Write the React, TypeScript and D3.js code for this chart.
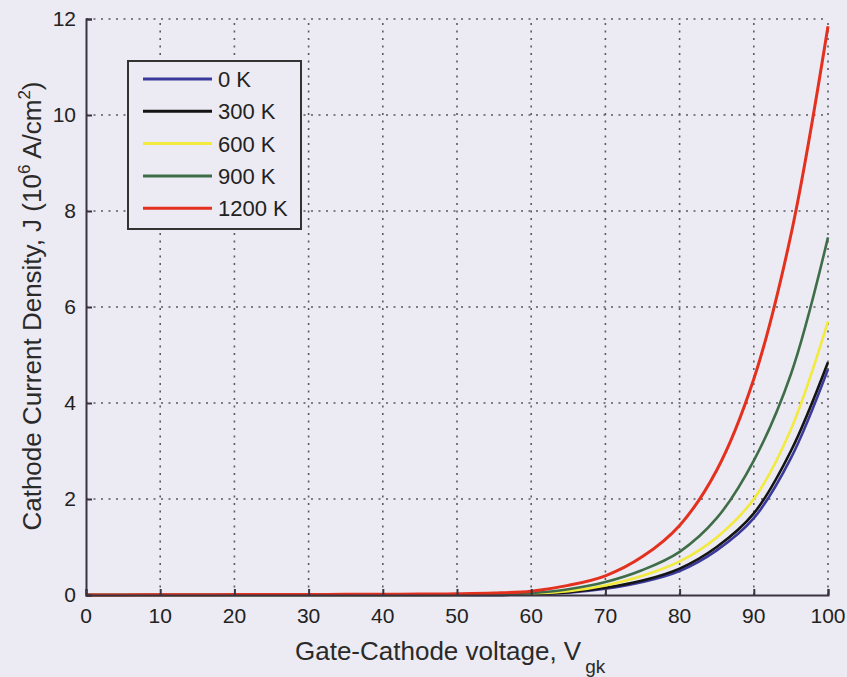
import { useEffect, useRef } from "react";
import * as d3 from "d3";

// gate-cathode voltage samples (V)
const voltages = [0, 5, 10, 15, 20, 25, 30, 35, 40, 45, 50, 55, 60, 65, 70, 75, 80, 85, 90, 95, 100];

// current density per temperature (10^6 A/cm^2)
const j0K = [0, 0, 0, 0, 0, 0, 0, 0, 0, 0, 0, 0, 0.02, 0.05, 0.13, 0.27, 0.5, 0.93, 1.6, 2.85, 4.7];
const j300K = [0, 0, 0, 0, 0, 0, 0, 0, 0, 0, 0, 0, 0.02, 0.06, 0.15, 0.3, 0.55, 1.0, 1.7, 3.0, 4.85];
const j600K = [0, 0, 0, 0, 0, 0, 0, 0, 0, 0, 0, 0.01, 0.03, 0.08, 0.2, 0.4, 0.7, 1.2, 2.0, 3.45, 5.7];
const j900K = [0, 0, 0, 0, 0, 0, 0, 0, 0, 0, 0.005, 0.015, 0.04, 0.12, 0.27, 0.52, 0.9, 1.6, 2.8, 4.6, 7.45];
const j1200K = [0, 0.002, 0.004, 0.006, 0.008, 0.01, 0.012, 0.014, 0.016, 0.02, 0.025, 0.04, 0.08, 0.2, 0.4, 0.8, 1.45, 2.6, 4.5, 7.5, 11.85];

const seriesNames = ["0 K", "300 K", "600 K", "900 K", "1200 K"];
const seriesValues = [j0K, j300K, j600K, j900K, j1200K];
const seriesColors = ["#3b3a9c", "#141414", "#f2ea3c", "#3e6d48", "#e3301f"];

const xTicks = [0, 10, 20, 30, 40, 50, 60, 70, 80, 90, 100];
const yTicks = [0, 2, 4, 6, 8, 10, 12];

export default function App() {
  const svgRef = useRef<SVGSVGElement>(null);

  useEffect(() => {
    const svg = d3.select(svgRef.current);
    svg.selectAll("*").remove();

    const width = 847;
    const height = 677;
    const margin = { top: 19, right: 19, bottom: 82, left: 86 };
    const font = "'Liberation Sans', Arial, sans-serif";
    const axisColor = "#3a3340";
    const gridColor = "#5a5a60";

    const x = d3.scaleLinear().domain([0, 100]).range([margin.left, width - margin.right]);
    const y = d3.scaleLinear().domain([0, 12]).range([height - margin.bottom, margin.top]);

    svg.append("rect").attr("width", width).attr("height", height).attr("fill", "#eceaf2");

    // dotted grid
    const grid = svg.append("g");
    grid
      .selectAll("line.v")
      .data(xTicks.filter((d) => d > 0))
      .enter()
      .append("line")
      .attr("x1", (d) => x(d))
      .attr("x2", (d) => x(d))
      .attr("y1", y(0))
      .attr("y2", y(12))
      .attr("stroke", gridColor)
      .attr("stroke-width", 1.6)
      .attr("stroke-dasharray", "2 5.5");
    grid
      .selectAll("line.h")
      .data(yTicks.filter((d) => d > 0))
      .enter()
      .append("line")
      .attr("x1", x(0))
      .attr("x2", x(100))
      .attr("y1", (d) => y(d))
      .attr("y2", (d) => y(d))
      .attr("stroke", gridColor)
      .attr("stroke-width", 1.6)
      .attr("stroke-dasharray", "2 5.5");

    // curves, red drawn last
    const line = d3
      .line<number>()
      .x((_, i) => x(voltages[i]))
      .y((d) => y(Math.max(0, d)))
      .curve(d3.curveCatmullRom.alpha(0.5));

    svg
      .append("g")
      .selectAll("path")
      .data(seriesValues)
      .enter()
      .append("path")
      .attr("d", (d) => line(d))
      .attr("fill", "none")
      .attr("stroke", (_, i) => seriesColors[i])
      .attr("stroke-width", (_, i) => (i === 4 ? 3 : 2.6));

    // axes: left and bottom only, inward ticks
    const yAxis = svg
      .append("g")
      .attr("transform", `translate(${x(0)},0)`)
      .call(d3.axisRight(y).tickValues(yTicks).tickSize(6).tickFormat(() => ""));
    yAxis.select(".domain").attr("stroke", axisColor).attr("stroke-width", 2);
    yAxis.selectAll(".tick line").attr("stroke", axisColor).attr("stroke-width", 2);

    const xAxis = svg
      .append("g")
      .attr("transform", `translate(0,${y(0)})`)
      .call(d3.axisTop(x).tickValues(xTicks).tickSize(6).tickFormat(() => ""));
    xAxis.select(".domain").attr("stroke", axisColor).attr("stroke-width", 2);
    xAxis.selectAll(".tick line").attr("stroke", axisColor).attr("stroke-width", 2);

    // tick labels
    svg
      .append("g")
      .selectAll("text")
      .data(yTicks)
      .enter()
      .append("text")
      .attr("x", x(0) - 10)
      .attr("y", (d) => y(d) + 7)
      .attr("text-anchor", "end")
      .attr("font-family", font)
      .attr("font-size", 21)
      .attr("fill", "#222")
      .text((d) => d);

    svg
      .append("g")
      .selectAll("text")
      .data(xTicks)
      .enter()
      .append("text")
      .attr("x", (d) => x(d))
      .attr("y", y(0) + 28)
      .attr("text-anchor", "middle")
      .attr("font-family", font)
      .attr("font-size", 21)
      .attr("fill", "#222")
      .text((d) => d);

    // axis titles
    const xt = svg
      .append("text")
      .attr("x", 295)
      .attr("y", 660)
      .attr("font-family", font)
      .attr("font-size", 26)
      .attr("fill", "#2a2a2a");
    xt.append("tspan").text("Gate-Cathode voltage, V");
    xt.append("tspan").attr("font-size", 19).attr("dy", 13).attr("dx", 4).text("gk");

    const yt = svg
      .append("text")
      .attr("transform", `translate(41,${(72 + 540) / 2}) rotate(-90)`)
      .attr("text-anchor", "middle")
      .attr("font-family", font)
      .attr("font-size", 26)
      .attr("fill", "#2a2a2a");
    yt.append("tspan").text("Cathode Current Density, J (10");
    yt.append("tspan").attr("font-size", 17).attr("dy", -11).text("6");
    yt.append("tspan").attr("dy", 11).text(" A/cm");
    yt.append("tspan").attr("font-size", 17).attr("dy", -11).text("2");
    yt.append("tspan").attr("dy", 11).text(")");

    // legend
    const legend = svg.append("g").attr("transform", "translate(128,61)");
    legend
      .append("rect")
      .attr("width", 173)
      .attr("height", 168)
      .attr("fill", "#eceaf2")
      .attr("stroke", "#333")
      .attr("stroke-width", 2);

    const rows = legend
      .selectAll("g")
      .data(seriesNames)
      .enter()
      .append("g")
      .attr("transform", (_, i) => `translate(0,${18 + i * 32.3})`);
    rows
      .append("line")
      .attr("x1", 15)
      .attr("x2", 84)
      .attr("stroke", (_, i) => seriesColors[i])
      .attr("stroke-width", 3);
    rows
      .append("text")
      .attr("x", 90)
      .attr("y", 8)
      .attr("font-family", font)
      .attr("font-size", 22)
      .attr("fill", "#222")
      .text((d) => d);
  }, []);

  return (
    <div style={{ position: "absolute", left: 0, top: 0 }}>
      <svg ref={svgRef} width={847} height={677} viewBox="0 0 847 677" style={{ display: "block" }} />
    </div>
  );
}
